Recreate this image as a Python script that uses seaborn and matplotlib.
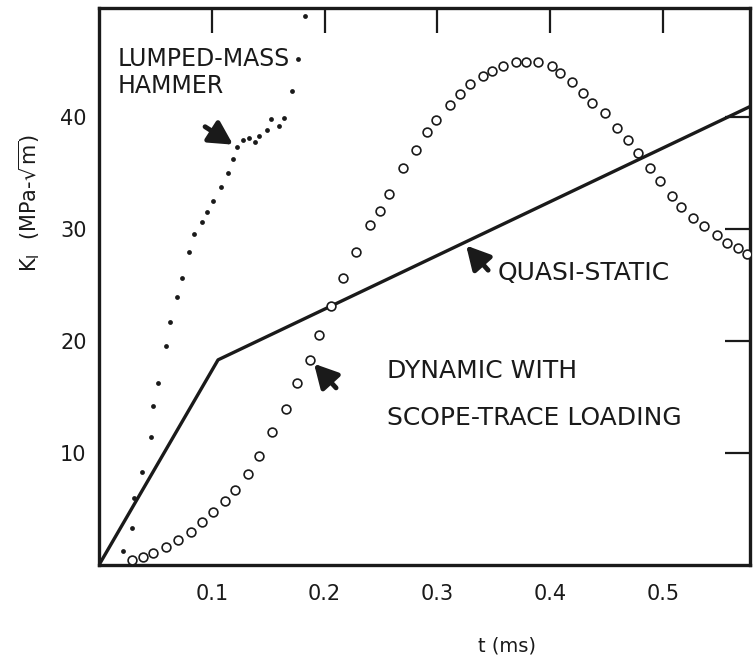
import matplotlib
matplotlib.use("Agg")
import matplotlib.pyplot as plt
import pandas as pd
import seaborn as sns

# quasi-static loading (piecewise line)
quasi_t = [0.0, 0.1055, 0.577]
quasi_k = [0.0, 18.3, 40.9]

# lumped-mass hammer (small filled dots)
hammer_t = [0.0213, 0.0293, 0.0310, 0.0381, 0.0461, 0.0479, 0.0523, 0.0594,
            0.0629, 0.0691, 0.0736, 0.0798, 0.0842, 0.0913, 0.0957, 0.1011,
            0.1082, 0.1144, 0.1188, 0.1223, 0.1277, 0.1330, 0.1383, 0.1418,
            0.1489, 0.1525, 0.1596, 0.1640, 0.1711, 0.1764, 0.1826]
hammer_k = [1.25, 3.3, 6.0, 8.3, 11.4, 14.2, 16.25, 19.55,
            21.7, 23.9, 25.6, 27.9, 29.55, 30.6, 31.5, 32.5,
            33.75, 35.0, 36.25, 37.3, 37.95, 38.1, 37.7, 38.3,
            38.8, 39.8, 39.2, 39.9, 42.3, 45.1, 49.0]

# dynamic with scope-trace loading (open circles)
dyn_t = [0.0293, 0.0390, 0.0479, 0.0594, 0.0700, 0.0816, 0.0913, 0.1011,
         0.1117, 0.1206, 0.1321, 0.1418, 0.1534, 0.1658, 0.1755, 0.1871,
         0.1950, 0.2057, 0.2163, 0.2278, 0.2402, 0.2491, 0.2571, 0.2695,
         0.2810, 0.2908, 0.2988, 0.3112, 0.3200, 0.3289, 0.3404, 0.3484,
         0.3582, 0.3697, 0.3785, 0.3892, 0.4016, 0.4087, 0.4193, 0.4291,
         0.4371, 0.4486, 0.4592, 0.4690, 0.4778, 0.4885, 0.4973, 0.5080,
         0.5160, 0.5266, 0.5363, 0.5479, 0.5567, 0.5665, 0.5745]
dyn_k = [0.45, 0.71, 1.07, 1.61, 2.23, 2.95, 3.84, 4.73,
         5.71, 6.70, 8.13, 9.73, 11.9, 13.9, 16.2, 18.3,
         20.5, 23.1, 25.6, 27.9, 30.3, 31.6, 33.1, 35.4,
         37.05, 38.6, 39.7, 41.0, 42.05, 42.9, 43.6, 44.1,
         44.5, 44.9, 44.9, 44.9, 44.5, 43.9, 43.1, 42.1,
         41.25, 40.3, 39.0, 37.9, 36.8, 35.4, 34.3, 32.9,
         31.9, 31.0, 30.2, 29.4, 28.75, 28.3, 27.7]

x_ticks = [0.1, 0.2, 0.3, 0.4, 0.5]
x_tick_labels = ["0.1", "0.2", "0.3", "0.4", "0.5"]
y_ticks = [10, 20, 30, 40]
y_tick_labels = ["10", "20", "30", "40"]

sns.set_style("white")
plt.rcParams["font.family"] = ["DejaVu Sans"]
ink = "#1a1a1a"

fig = plt.figure(figsize=(7.53, 6.6), dpi=100)
ax = fig.add_axes([0.1315, 0.144, 0.8645, 0.844])

quasi = pd.DataFrame({"t": quasi_t, "k": quasi_k})
hammer = pd.DataFrame({"t": hammer_t, "k": hammer_k})
dyn = pd.DataFrame({"t": dyn_t, "k": dyn_k})

sns.lineplot(data=quasi, x="t", y="k", ax=ax, color=ink, lw=2.4, sort=False)
sns.scatterplot(data=hammer, x="t", y="k", ax=ax, color=ink, s=12,
                linewidth=0, zorder=3)
sns.scatterplot(data=dyn, x="t", y="k", ax=ax, s=40, facecolor="white",
                edgecolor=ink, linewidth=1.2, zorder=4)

ax.set_xlim(0, 0.577)
ax.set_ylim(0, 49.7)
ax.set_xticks(x_ticks, x_tick_labels)
ax.set_yticks(y_ticks, y_tick_labels)
ax.tick_params(direction="in", length=18, width=1.6, color=ink,
               top=True, right=True, labelsize=15, labelcolor=ink)
ax.tick_params(axis="x", pad=14)
ax.tick_params(axis="y", pad=9)
for sp in ax.spines.values():
    sp.set_linewidth(2.4)
    sp.set_color(ink)

ax.set_xlabel("t (ms)", fontsize=14, color=ink)
ax.set_ylabel(r"K$_\mathrm{I}$  (MPa-$\sqrt{\mathrm{m}}$)", fontsize=15, color=ink)
ax.xaxis.set_label_coords(0.627, -0.128)
ax.yaxis.set_label_coords(-0.087, 0.65)

txt = dict(color=ink, va="baseline", ha="left")
ax.text(0.0168, 44.5, "LUMPED-MASS", fontsize=17, **txt)
ax.text(0.0168, 42.1, "HAMMER", fontsize=17, **txt)
ax.text(0.353, 25.4, "QUASI-STATIC", fontsize=18, **txt)
ax.text(0.2553, 16.7, "DYNAMIC WITH", fontsize=18, **txt)
ax.text(0.2553, 12.5, "SCOPE-TRACE LOADING", fontsize=18, **txt)

arrow = dict(arrowstyle="-|>,head_length=1.4,head_width=0.75",
             color=ink, lw=3.5, shrinkA=0, shrinkB=0)
ax.annotate("", xy=(0.1188, 37.5), xytext=(0.094, 39.1), arrowprops=arrow)
ax.annotate("", xy=(0.3254, 28.5), xytext=(0.3449, 26.3), arrowprops=arrow)
ax.annotate("", xy=(0.1906, 17.95), xytext=(0.2101, 15.8), arrowprops=arrow)

fig.savefig("out.png", dpi=100)
